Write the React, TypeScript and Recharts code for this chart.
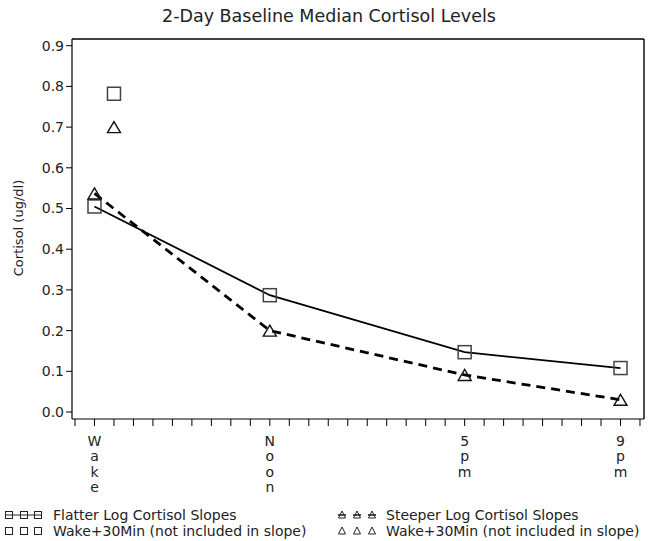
import React from 'react';
import { ComposedChart, Line, XAxis, YAxis, ReferenceLine } from 'recharts';

// ---- data ----
const timePoints = ['Wake', 'Noon', '5pm', '9pm'];
const timeHours = [7.5, 12, 17, 21];
const flatterValues = [0.505, 0.287, 0.147, 0.108];
const steeperValues = [0.537, 0.2, 0.091, 0.03];
const wake30Hour = 8;
const flatterWake30Value = 0.782;
const steeperWake30Value = 0.7;

const xTicks = [
  7, 7.5, 8, 8.5, 9, 9.5, 10, 10.5, 11, 11.5, 12, 12.5, 13, 13.5, 14, 14.5, 15,
  15.5, 16, 16.5, 17, 17.5, 18, 18.5, 19, 19.5, 20, 20.5, 21, 21.5,
];
const xTickLabels = ['Wake', 'Noon', '5pm', '9pm'];
const yTicks = [0, 0.1, 0.2, 0.3, 0.4, 0.5, 0.6, 0.7, 0.8, 0.9];
const yTickLabels = ['0.0', '0.1', '0.2', '0.3', '0.4', '0.5', '0.6', '0.7', '0.8', '0.9'];

const title = '2-Day Baseline Median Cortisol Levels';
const yLabel = 'Cortisol (ug/dl)';
const legendFlatter = 'Flatter Log Cortisol Slopes';
const legendSteeper = 'Steeper Log Cortisol Slopes';
const legendWake30 = 'Wake+30Min (not included in slope)';

const flatterData = timeHours.map((x, i) => ({ x, y: flatterValues[i] }));
const steeperData = timeHours.map((x, i) => ({ x, y: steeperValues[i] }));
const flatterWake30Data = [{ x: wake30Hour, y: flatterWake30Value }];
const steeperWake30Data = [{ x: wake30Hour, y: steeperWake30Value }];

const FONT = 'DejaVu Sans, sans-serif';
const X_DOMAIN: [number, number] = [6.923, 21.603];
const Y_DOMAIN: [number, number] = [-0.0172, 0.9165];

const squareDot = (props: any) => {
  const { cx, cy, index } = props;
  if (cx == null || cy == null) return <g key={`s${index}`} />;
  return (
    <rect key={`s${index}`} x={cx - 6.5} y={cy - 6.5} width={13} height={13}
      fill="none" stroke="#444" strokeWidth={1.5} />
  );
};

const triangleDot = (props: any) => {
  const { cx, cy, index } = props;
  if (cx == null || cy == null) return <g key={`t${index}`} />;
  return (
    <path key={`t${index}`} d={`M${cx},${cy - 5.5} L${cx + 6.5},${cy + 5.5} L${cx - 6.5},${cy + 5.5} Z`}
      fill="none" stroke="#111" strokeWidth={1.4} strokeLinejoin="miter" />
  );
};

const XTick = (props: any) => {
  const { x, y, payload } = props;
  const idx = timeHours.indexOf(payload.value);
  if (idx < 0) return <g />;
  const label = xTickLabels[idx];
  return (
    <text textAnchor="middle" fontSize={14} fill="#222" fontFamily={FONT}>
      {label.split('').map((c, i) => (
        <tspan key={i} x={x} y={y + 18 + i * 15.4}>{c}</tspan>
      ))}
    </text>
  );
};

const Overlay = () => (
  <svg width={670} height={541} style={{ position: 'absolute', left: 0, top: 0, pointerEvents: 'none' }}>
    <text x={329} y={22} textAnchor="middle" fontSize={17.5} fill="#222" fontFamily={FONT}>{title}</text>
    <text x={0} y={0} transform="translate(23,228) rotate(-90)" textAnchor="middle" fontSize={13} fill="#222" fontFamily={FONT}>{yLabel}</text>
    <g stroke="#222" fill="none" strokeWidth={1}>
      <line x1={5} y1={515} x2={41} y2={515} />
      {[9, 24, 38].map((cx) => <rect key={cx} x={cx - 3.5} y={511.5} width={7} height={7} />)}
      {[9, 24, 38].map((cx) => <rect key={'b' + cx} x={cx - 3.5} y={527.5} width={7} height={7} />)}
      {[342, 357, 372].map((cx) => <line key={'l' + cx} x1={cx - 4} y1={515} x2={cx + 4} y2={515} strokeWidth={1.6} />)}
      {[342, 357, 372].map((cx) => <path key={cx} d={`M${cx},${511} L${cx + 3.5},${518} L${cx - 3.5},${518} Z`} />)}
      {[342, 357, 372].map((cx) => <path key={'b' + cx} d={`M${cx},${527} L${cx + 3.5},${534} L${cx - 3.5},${534} Z`} />)}
    </g>
    <text x={53} y={520} fontSize={14} fill="#222" fontFamily={FONT}>{legendFlatter}</text>
    <text x={53} y={536} fontSize={14} fill="#222" fontFamily={FONT}>{legendWake30}</text>
    <text x={386} y={520} fontSize={14} fill="#222" fontFamily={FONT}>{legendSteeper}</text>
    <text x={386} y={536} fontSize={14} fill="#222" fontFamily={FONT}>{legendWake30}</text>
  </svg>
);

export default function App() {
  return (
    <div style={{ position: 'absolute', left: 0, top: 0, width: 670, height: 541, background: '#fff' }}>
      <ComposedChart width={670} height={541} margin={{ top: 39, right: 26, bottom: 42, left: 0 }}>
        <XAxis dataKey="x" type="number" domain={X_DOMAIN} ticks={xTicks} interval={0}
          allowDataOverflow tick={<XTick />} tickSize={7} height={80}
          axisLine={{ stroke: '#000', strokeWidth: 1.2 }} tickLine={{ stroke: '#000' }} />
        <YAxis dataKey="y" type="number" domain={Y_DOMAIN} ticks={yTicks} interval={0} allowDataOverflow
          tickFormatter={(v: number) => yTickLabels[yTicks.indexOf(v)] ?? ''}
          width={72} tickSize={6}
          tick={{ fontSize: 14, fill: '#222', fontFamily: FONT }}
          axisLine={{ stroke: '#000', strokeWidth: 1.2 }} tickLine={{ stroke: '#000' }} />
        <ReferenceLine y={Y_DOMAIN[1]} stroke="#000" strokeWidth={1.4} ifOverflow="visible" />
        <ReferenceLine x={X_DOMAIN[1]} stroke="#000" strokeWidth={1.4} ifOverflow="visible" />
        <Line data={flatterData} dataKey="y" name={legendFlatter} stroke="#000" strokeWidth={1.8}
          dot={squareDot} activeDot={false} isAnimationActive={false} />
        <Line data={steeperData} dataKey="y" name={legendSteeper} stroke="#000" strokeWidth={2.8}
          strokeDasharray="9 6" dot={triangleDot} activeDot={false} isAnimationActive={false} />
        <Line data={flatterWake30Data} dataKey="y" name={legendWake30} stroke="none"
          dot={squareDot} activeDot={false} isAnimationActive={false} />
        <Line data={steeperWake30Data} dataKey="y" name={legendWake30 + ' '} stroke="none"
          dot={triangleDot} activeDot={false} isAnimationActive={false} />
      </ComposedChart>
      <Overlay />
    </div>
  );
}
